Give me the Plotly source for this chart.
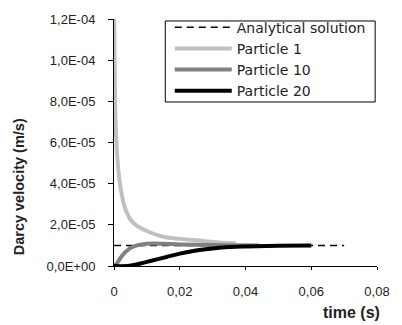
import plotly.graph_objects as go

# Data
t_analytical = [0.0, 0.07]
v_analytical = [1.0e-5, 1.0e-5]

t_p1 = [0.0, 0.0002, 0.0005, 0.001, 0.0015, 0.002, 0.003, 0.004, 0.005, 0.007, 0.01, 0.015, 0.02, 0.025, 0.03, 0.037]
v_p1 = [1.3e-4, 9.5e-5, 6.8e-5, 5.3e-5, 4.4e-5, 3.8e-5, 3.0e-5, 2.55e-5, 2.25e-5, 1.95e-5, 1.7e-5, 1.42e-5, 1.32e-5, 1.25e-5, 1.17e-5, 1.1e-5]

t_p10 = [0.0, 0.001, 0.002, 0.003, 0.004, 0.005, 0.007, 0.01, 0.015, 0.02, 0.03, 0.044]
v_p10 = [0.0, 0.15e-5, 0.4e-5, 0.6e-5, 0.75e-5, 0.87e-5, 1.0e-5, 1.08e-5, 1.08e-5, 1.05e-5, 1.02e-5, 1.0e-5]

t_p20 = [0.0, 0.004, 0.006, 0.008, 0.01, 0.013, 0.016, 0.02, 0.025, 0.03, 0.035, 0.04, 0.05, 0.06]
v_p20 = [0.0, 0.0, 0.05e-5, 0.12e-5, 0.2e-5, 0.32e-5, 0.44e-5, 0.6e-5, 0.75e-5, 0.85e-5, 0.92e-5, 0.95e-5, 0.98e-5, 1.0e-5]

y_tickvals = [0, 2e-5, 4e-5, 6e-5, 8e-5, 1.0e-4, 1.2e-4]
y_ticktext = ["0,0E+00", "2,0E-05", "4,0E-05", "6,0E-05", "8,0E-05", "1,0E-04", "1,2E-04"]
x_tickvals = [0, 0.02, 0.04, 0.06, 0.08]
x_ticktext = ["0", "0,02", "0,04", "0,06", "0,08"]

FONT = "Liberation Sans, Arial, sans-serif"

fig = go.Figure()
fig.add_trace(go.Scatter(x=t_analytical, y=v_analytical, mode="lines", name="Analytical solution",
                         line=dict(color="black", width=1.5, dash="7px,5px")))
fig.add_trace(go.Scatter(x=t_p1, y=v_p1, mode="lines", name="Particle 1",
                         line=dict(color="#c0c0c0", width=4, shape="spline", smoothing=1.0)))
fig.add_trace(go.Scatter(x=t_p10, y=v_p10, mode="lines", name="Particle 10",
                         line=dict(color="#808080", width=4, shape="spline")))
fig.add_trace(go.Scatter(x=t_p20, y=v_p20, mode="lines", name="Particle 20",
                         line=dict(color="black", width=4, shape="spline")))

fig.update_layout(
    width=402, height=325,
    margin=dict(l=114, r=16, t=16, b=59),
    paper_bgcolor="white", plot_bgcolor="white",
    font=dict(family=FONT, size=13, color="#222"),
    showlegend=True,
    legend=dict(x=0.212, y=1.03, xanchor="left", yanchor="top",
                borderwidth=0, bgcolor="rgba(0,0,0,0)",
                font=dict(family="DejaVu Sans, sans-serif", size=14, color="#222"),
                tracegroupgap=0, itemwidth=57),
    shapes=[dict(type="rect", xref="paper", yref="paper",
                 x0=0.195, x1=0.993, y0=0.664, y1=0.992,
                 line=dict(color="black", width=1), fillcolor="rgba(0,0,0,0)", layer="below")],
    xaxis=dict(range=[0, 0.08], tickvals=x_tickvals, ticktext=x_ticktext,
               showgrid=False, zeroline=False, showline=True, linecolor="black", linewidth=1,
               ticks="outside", ticklen=3, tickcolor="black", ticklabelstandoff=10),
    yaxis=dict(range=[0, 1.2e-4], tickvals=y_tickvals, ticktext=y_ticktext,
               showgrid=False, zeroline=False, showline=True, linecolor="black", linewidth=1,
               ticks="outside", ticklen=5, tickcolor="black", ticklabelstandoff=10),
    annotations=[
        dict(text="<b>Darcy velocity (m/s)</b>", xref="paper", yref="paper",
             x=-0.36, y=0.32, textangle=-90, showarrow=False,
             font=dict(size=14.5, color="#222"), xanchor="center", yanchor="middle"),
        dict(text="<b>time (s)</b>", xref="paper", yref="paper",
             x=1.018, y=-0.19, showarrow=False, xanchor="right", yanchor="middle",
             font=dict(size=16, color="#222")),
    ],
)

fig.write_html("out.html")
